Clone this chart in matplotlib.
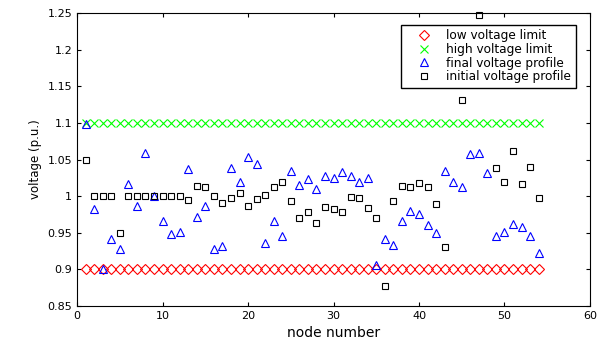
import numpy as np
import matplotlib.pyplot as plt

plt.rcParams['font.family'] = ['DejaVu Sans']

node = np.arange(1, 55)
v_low = np.full(54, 0.9)
v_high = np.full(54, 1.1)

v_final = [1.098, 0.982, 0.900, 0.941, 0.928, 1.017, 0.987, 1.059, 1.000, 0.966,
           0.948, 0.951, 1.037, 0.971, 0.986, 0.928, 0.932, 1.038, 1.019, 1.053,
           1.044, 0.936, 0.966, 0.946, 1.034, 1.015, 1.023, 1.010, 1.028, 1.025,
           1.033, 1.028, 1.019, 1.025, 0.906, 0.941, 0.933, 0.966, 0.980, 0.976,
           0.961, 0.950, 1.034, 1.019, 1.013, 1.058, 1.059, 1.031, 0.946, 0.951,
           0.962, 0.958, 0.946, 0.922]

v_init = [1.050, 1.000, 1.000, 1.000, 0.950, 1.000, 1.000, 1.000, 1.000, 1.000,
          1.000, 1.000, 0.995, 1.014, 1.012, 1.000, 0.991, 0.998, 1.005, 0.987,
          0.996, 1.002, 1.013, 1.019, 0.993, 0.970, 0.978, 0.964, 0.985, 0.983,
          0.979, 0.999, 0.997, 0.984, 0.970, 0.878, 0.994, 1.014, 1.013, 1.018,
          1.012, 0.989, 0.930, np.nan, 1.131, np.nan, 1.248, np.nan, 1.038, 1.019,
          1.062, 1.017, 1.040, 0.998]

fig = plt.figure(figsize=(6.12, 3.45), dpi=100)
ax = fig.add_axes([0.126, 0.113, 0.838, 0.849])

ax.plot(node, v_low, 'rD', markersize=5.6, markerfacecolor='none', markeredgewidth=0.8,
        label='low voltage limit')
ax.plot(node, v_high, 'x', color=(0, 1, 0), markersize=6, markeredgewidth=0.8,
        label='high voltage limit')
ax.plot(node, v_final, 'b^', markersize=5.5, markerfacecolor='none', markeredgewidth=0.8,
        label='final voltage profile')
ax.plot(node, v_init, 'ks', markersize=4.8, markerfacecolor='none', markeredgewidth=0.8,
        label='initial voltage profile', clip_on=False)

ax.set_xlim(0, 60)
ax.set_ylim(0.85, 1.25)
ax.set_xticks(np.arange(0, 61, 10))
ax.set_yticks(np.arange(0.85, 1.2501, 0.05))
ax.yaxis.set_major_formatter(plt.FuncFormatter(lambda v, p: '%g' % round(v, 2)))
ax.tick_params(direction='in', top=True, right=True, labelsize=8, length=3)
ax.set_xlabel('node number', fontsize=10)
ax.set_ylabel('voltage (p.u.)', fontsize=8.5)

ax.legend(loc='upper right', bbox_to_anchor=(0.972, 0.961), borderaxespad=0,
          fontsize=8.7, fancybox=False, edgecolor='black', framealpha=1,
          handletextpad=0.3, borderpad=0.4, labelspacing=0.05, handlelength=3.0)

fig.savefig('out.png', dpi=100)
